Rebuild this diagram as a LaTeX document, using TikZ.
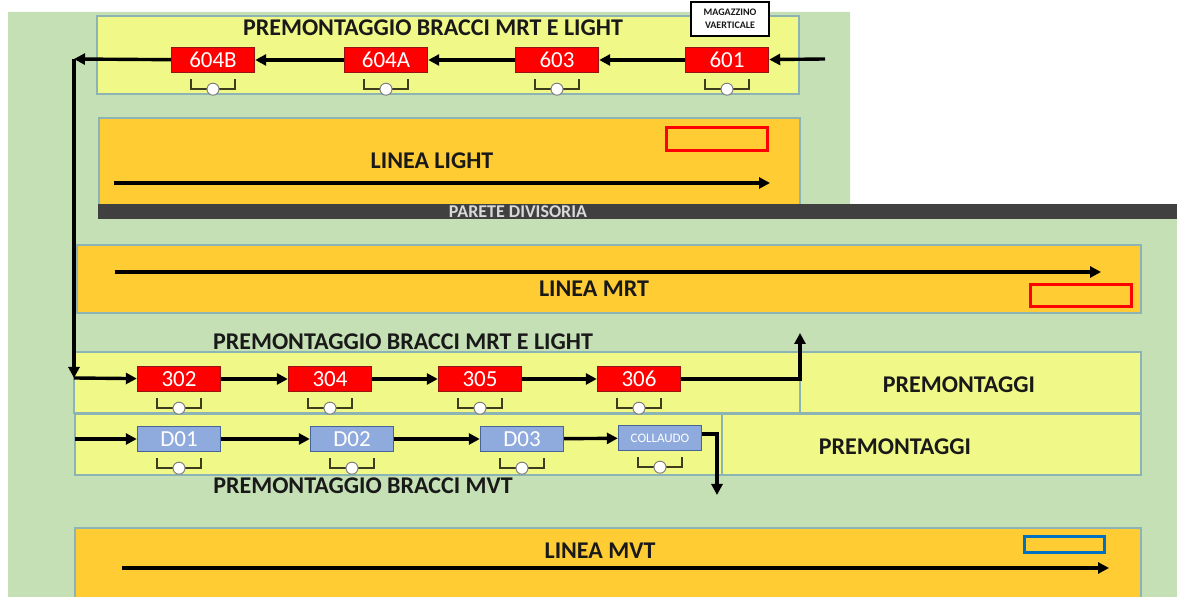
\documentclass[tikz,border=0pt]{standalone}
\usepackage{fontspec}
\setmainfont{Carlito}
\usetikzlibrary{calc,arrows.meta}
\usetikzlibrary{positioning}

\definecolor{verde}{RGB}{197,224,180}
\definecolor{giallo}{RGB}{240,248,136}
\definecolor{arancio}{RGB}{255,204,51}
\definecolor{parete}{RGB}{64,64,64}
\definecolor{bordo}{RGB}{140,180,180}
\definecolor{rosso}{RGB}{255,0,0}
\definecolor{rossoscuro}{RGB}{150,20,20}
\definecolor{azzurro}{RGB}{143,170,220}
\definecolor{bordoblu}{RGB}{70,100,150}
\definecolor{opcol}{RGB}{60,60,30}
\definecolor{testo}{RGB}{25,25,25}
\definecolor{bluriq}{RGB}{0,112,192}

% postazione operatore sotto la stazione
\newcommand{\operatore}[1]{%
  \draw[oper] ([xshift=-11pt,yshift=-3pt]#1.south) |- ([yshift=-8pt]#1.south) -| ([xshift=11pt,yshift=-3pt]#1.south);
  \node[opcerchio] at ([yshift=-8pt]#1.south) {};
}

\begin{document}
\begin{tikzpicture}[
    x=0.5pt, y=-0.5pt,
    area/.style={draw=bordo, line width=0.6pt},
    rossa/.style={draw=rossoscuro, fill=rosso, text=white, line width=0.7pt, minimum width=41.5pt, minimum height=12.5pt, inner sep=0pt, font=\fontsize{11.5}{12}\selectfont},
    stazblu/.style={rossa, draw=bordoblu, fill=azzurro},
    titolo/.style={font=\fontsize{12}{14}\selectfont\bfseries, text=testo},
    flusso/.style={-{Triangle[length=5.5pt,width=5.5pt]}, line width=1.7pt},
    oper/.style={draw=opcol, line width=1.1pt},
    opcerchio/.style={circle, draw=gray, fill=white, inner sep=0pt, minimum size=6pt, line width=0.5pt}
]

% FIXED BOUNDING BOX
\useasboundingbox (0,0) rectangle (1177,597);

% sfondo
\fill[verde] (8,12) -- (850,12) -- (850,204) -- (1177,204) -- (1177,597) -- (8,597) -- cycle;

% aree
\filldraw[area, fill=giallo] (97,16) rectangle (799,94);
\filldraw[fill=white, draw=black, line width=1.2pt] (691,2) rectangle (769,36);
\filldraw[area, fill=arancio] (99,118) rectangle (800,205);
\fill[parete] (98,204) rectangle (1177,219);
\filldraw[area, fill=arancio] (77,245) rectangle (1141,313);
\filldraw[area, fill=giallo] (74,352) rectangle (1141,413);
\draw[area] (800,352) -- (800,413);
\filldraw[area, fill=giallo] (75,414) rectangle (1141,475);
\draw[area] (722,414) -- (722,475);
\filldraw[area, fill=arancio] (75,597) -- (75,528) -- (1141,528) -- (1141,597);

% riquadri
\draw[rosso, line width=1.5pt] (666,128) rectangle (767,151);
\draw[rosso, line width=1.5pt] (1030,285) rectangle (1131,307);
\draw[bluriq, line width=1.5pt] (1024,537) rectangle (1104,553);

% testi
\node[titolo] (tit1) at (433,28) {PREMONTAGGIO BRACCI MRT E LIGHT};
\node[font=\fontsize{5}{6.5}\selectfont\bfseries, align=center, text=testo] (mag) at (730,19) {MAGAZZINO\\VAERTICALE};
\node[titolo] (light) at (432,161) {LINEA LIGHT};
\node[font=\fontsize{9}{10}\selectfont\bfseries, text=black!15] (par) at (518,212) {PARETE DIVISORIA};
\node[titolo] (mrt) at (594,289) {LINEA MRT};
\node[titolo] (tit2) at (403,342) {PREMONTAGGIO BRACCI MRT E LIGHT};
\node[titolo] (pre1) at (959,385) {PREMONTAGGI};
\node[titolo] (pre2) at (895,447) {PREMONTAGGI};
\node[titolo] (tit3) at (363,486) {PREMONTAGGIO BRACCI MVT};
\node[titolo] (mvt) at (600,551) {LINEA MVT};

% stazioni
\node[rossa] (s601) at (727,60) {601};
\node[rossa] (s603) at (557,60) {603};
\node[rossa] (s604A) at (386,60) {604A};
\node[rossa] (s604B) at (213,60) {604B};
\node[rossa] (s302) at (179,379) {302};
\node[rossa] (s304) at (330,379) {304};
\node[rossa] (s305) at (480,379) {305};
\node[rossa] (s306) at (639,379) {306};
\node[stazblu] (d01) at (179,439) {D01};
\node[stazblu] (d02) at (352,439) {D02};
\node[stazblu] (d03) at (522,439) {D03};
\node[stazblu, font=\fontsize{6.5}{7}\selectfont] (coll) at (660,438) {COLLAUDO};

\foreach \s in {s601,s603,s604A,s604B,s302,s304,s305,s306,d01,d02,d03,coll}
  {\operatore{\s}}

% punti liberi
\coordinate (ingresso) at (825,59);
\coordinate (angolo1) at (74,59);
\coordinate (angolo2) at (74,378);
\coordinate (uscita) at (800,333);
\coordinate (ingressoD) at (75,439);
\coordinate (uscitaD) at (717,495);
\coordinate (light0) at (114,183);
\coordinate (light1) at (770,183);
\coordinate (mrt0) at (115,272);
\coordinate (mrt1) at (1101,272);
\coordinate (mvt0) at (122,568);
\coordinate (mvt1) at (1109,568);

% flussi
\draw[flusso] (ingresso) -- (s601);
\draw[flusso] (s601) -- (s603);
\draw[flusso] (s603) -- (s604A);
\draw[flusso] (s604A) -- (s604B);
\draw[flusso] (s604B) -- (angolo1);
\draw[flusso] (angolo1) -- (angolo2);
\draw[flusso] (angolo2) -- (s302);
\draw[flusso] (s302) -- (s304);
\draw[flusso] (s304) -- (s305);
\draw[flusso] (s305) -- (s306);
\draw[flusso] (s306) -| (uscita);
\draw[flusso] (ingressoD) -- (d01);
\draw[flusso] (d01) -- (d02);
\draw[flusso] (d02) -- (d03);
\draw[flusso] (d03) -- (coll);
\draw[flusso] ([yshift=2pt]coll.east) -| (uscitaD);
\draw[flusso] (light0) -- (light1);
\draw[flusso] (mrt0) -- (mrt1);
\draw[flusso] (mvt0) -- (mvt1);

\end{tikzpicture}
\end{document}
